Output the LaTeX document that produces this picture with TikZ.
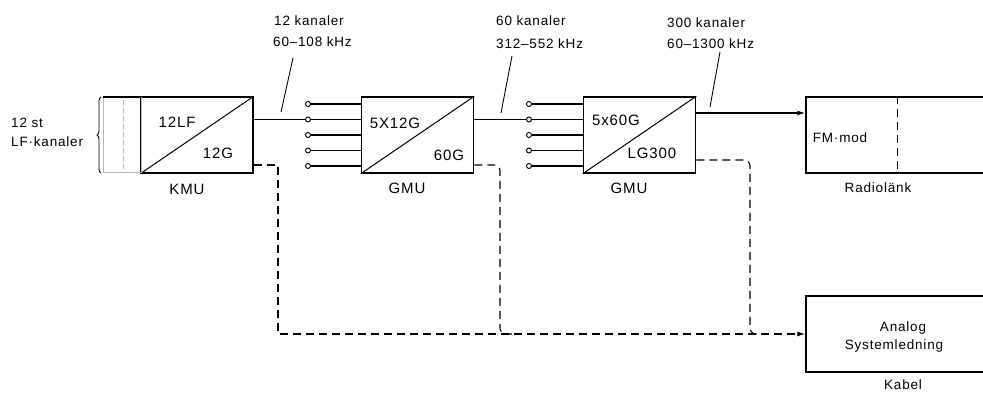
\documentclass[tikz,border=0pt]{standalone}
\usepackage{fontspec}
\setmainfont{Liberation Sans}[LetterSpace=6]
\usetikzlibrary{arrows.meta,decorations.pathreplacing,calc}
\begin{document}
\begin{tikzpicture}[x=1pt,y=-1pt,
  box/.style={draw,line width=1.5pt,minimum width=112pt,minimum height=76pt,inner sep=0},
  wbox/.style={draw,line width=1.5pt,minimum width=200pt,minimum height=76pt,inner sep=0},
  lbl/.style={inner sep=0,font=\fontsize{13.5}{16}\selectfont},
  blbl/.style={inner sep=0,font=\fontsize{15}{18}\selectfont},
  conn/.style={line width=1.1pt},
  dconn/.style={line width=1.1pt,dash pattern=on 8pt off 5pt},
  pin/.style={circle,draw,line width=0.9pt,inner sep=0,minimum size=5pt,fill=white},
  arr/.style={-{Latex[length=8pt,width=5pt]}}]
\useasboundingbox (0,0) rectangle (983,395);
\clip (0,0) rectangle (983,395);

% boxes
\node[box] (kmu) at (197,135) {};
\node[box] (gmuA) at (417.5,135) {};
\node[box] (gmuB) at (639.5,135) {};
\node[wbox] (radio) at (906,135) {};
\node[wbox] (kabel) at (906,334) {};
\draw[line width=1pt] (kmu.south west) -- (kmu.north east);
\draw[line width=1pt] (gmuA.south west) -- (gmuA.north east);
\draw[line width=1pt] (gmuB.south west) -- (gmuB.north east);
\draw[dconn] ([xshift=92pt]radio.north west) -- ([xshift=92pt]radio.south west);

% box texts
\node[blbl] (t12lf) at (177,122) {12LF};
\node[blbl] (t12g) at (218,153) {12G};
\node[blbl] (tkmu) at (187,189) {KMU};
\node[blbl] (t5x12) at (395,123) {5X12G};
\node[blbl] (t60g) at (449,155) {60G};
\node[blbl] (tgmuA) at (407,188) {GMU};
\node[blbl] (t5x60) at (616,120) {5x60G};
\node[blbl] (tlg) at (652,153) {LG300};
\node[blbl] (tgmuB) at (629,188) {GMU};
\node[lbl] (tfm) at (840,138) {FM·mod};
\node[lbl] (tradio) at (878,188) {Radiolänk};
\node[lbl] (tana) at (903,328) {Analog};
\node[lbl] (tsys) at (894,346) {Systemledning};
\node[lbl] (tkab) at (903,385) {Kabel};

% input bracket
\draw[gray!55,line width=0.8pt] (103,97) rectangle (141,172);
\draw[black,line width=1.2pt] (103,97) -- (141,97);
\draw[gray!55,line width=0.8pt,dash pattern=on 5pt off 3pt] (123,100) -- (123,170);
\draw[line width=0.9pt,decorate,decoration={brace,amplitude=4pt}] (101,173) -- (101,97);
\node[lbl,anchor=west] (t12st) at (11,123) {12 st};
\node[lbl,anchor=west] (tlfk) at (11,142) {LF·kanaler};

% pins
\foreach \y/\n in {104/1,119.5/2,135/3,150.5/4,166/5} {
  \node[pin] (pa\n) at (308,\y) {};
  \draw[conn] (pa\n) -- (pa\n -| gmuA.west);
  \node[pin] (pb\n) at (529,\y) {};
  \draw[conn] (pb\n) -- (pb\n -| gmuB.west);
}
\draw[conn] (kmu.east |- pa2) -- (pa2);
\draw[conn] (gmuA.east |- pb2) -- (pb2);
\draw[conn,arr] ([yshift=22pt]gmuB.east) coordinate (go) -- (go -| radio.west);

% top labels
\node[lbl,anchor=west] (la1) at (274,21) {12 kanaler};
\node[lbl,anchor=west] (la2) at (273,42) {60--108 kHz};
\node[lbl,anchor=west] (lb1) at (496,21) {60 kanaler};
\node[lbl,anchor=west] (lb2) at (496,44) {312--552 kHz};
\node[lbl,anchor=west] (lc1) at (667,23) {300 kanaler};
\node[lbl,anchor=west] (lc2) at (667,44) {60--1300 kHz};
\coordinate (a1) at (293,58); \coordinate (a2) at (281,112);
\coordinate (b1) at (512,56); \coordinate (b2) at (501,113);
\coordinate (c1) at (720,52); \coordinate (c2) at (710,107);
\draw[line width=0.9pt] (a1) -- (a2);
\draw[line width=0.9pt] (b1) -- (b2);
\draw[line width=0.9pt] (c1) -- (c2);

% dashed routes to cable
\draw[dconn,arr] ([yshift=-30pt]kmu.east) -| (278,334) -- (kabel.west);
\draw[dconn,rounded corners=6pt] ([yshift=-30pt]gmuA.east) -| (500,334) -- (512,334);
\draw[dconn,rounded corners=6pt] ([yshift=-25pt]gmuB.east) -| (750,334) -- (762,334);
\end{tikzpicture}
\end{document}
